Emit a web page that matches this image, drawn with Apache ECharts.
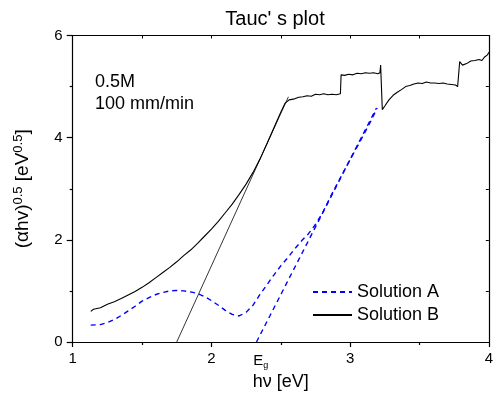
<!DOCTYPE html>
<html>
<head>
<meta charset="utf-8">
<script src="https://cdn.jsdelivr.net/npm/echarts@6/dist/echarts.min.js"></script>
<style>
html,body{margin:0;padding:0;background:#fff;}
#c{width:496px;height:396px;}
</style>
</head>
<body>
<div id="c"></div>
<script>
// ---- Data ----
var xTicks = [1, 2, 3, 4];
var yTicks = [0, 2, 4, 6];

var solBx = [1.13,1.15,1.2,1.25,1.3,1.35,1.4,1.45,1.5,1.55,1.6,1.65,1.7,1.75,1.8,1.85,1.9,1.95,2.0,2.05,2.1,2.15,2.2,2.25,2.3,2.35,2.4,2.45,2.5,2.53,2.56,
  2.6,2.63,2.66,2.69,2.72,2.75,2.78,2.81,2.84,2.87,2.9,2.93,2.935,2.96,2.99,3.02,3.05,3.08,3.11,3.14,3.17,3.2,3.215,3.22,3.232,3.25,3.28,3.31,3.34,3.37,3.4,3.43,3.46,3.49,3.52,3.55,3.58,3.61,3.64,3.67,3.7,3.73,3.76,3.775,3.79,3.81,3.84,3.87,3.9,3.93,3.95,3.97,3.99,4.0];
var solBy = [0.60,0.64,0.67,0.74,0.79,0.85,0.92,0.99,1.07,1.16,1.26,1.36,1.46,1.57,1.69,1.80,1.93,2.07,2.21,2.36,2.53,2.70,2.89,3.09,3.32,3.58,3.88,4.19,4.50,4.67,4.74,
  4.76,4.79,4.80,4.82,4.81,4.85,4.84,4.86,4.84,4.85,4.84,4.86,5.23,5.22,5.24,5.23,5.26,5.25,5.27,5.26,5.27,5.25,5.27,5.42,4.55,4.62,4.74,4.83,4.89,4.94,5.00,5.02,5.05,5.07,5.06,5.09,5.07,5.07,5.06,5.07,5.05,5.04,5.03,5.00,5.49,5.42,5.45,5.50,5.51,5.53,5.51,5.58,5.62,5.67];

var solAx = [1.13,1.2,1.25,1.3,1.35,1.4,1.45,1.5,1.55,1.6,1.65,1.7,1.75,1.8,1.85,1.9,1.95,2.0,2.05,2.1,2.15,2.2,2.25,2.3,2.35,2.4,2.45,2.5,2.55,2.6,2.65,2.7,2.75,2.8,2.85,2.9,2.95,3.0,3.05,3.1,3.15,3.195];
var solAy = [0.33,0.34,0.38,0.44,0.52,0.61,0.70,0.80,0.87,0.93,0.97,1.00,1.01,1.00,0.98,0.95,0.89,0.81,0.72,0.62,0.54,0.51,0.58,0.72,0.93,1.12,1.31,1.49,1.65,1.82,1.98,2.12,2.30,2.52,2.80,3.06,3.32,3.57,3.82,4.07,4.33,4.58];

var tangentBx = [1.75, 2.555];
var tangentBy = [0, 4.80];
var tangentAx = [2.325, 3.19];
var tangentAy = [0, 4.58];

var egValue = 2.33;

function zip(xs, ys){ return xs.map(function(x,i){ return [x, ys[i]]; }); }

var FONT = 'Liberation Sans';
var chart = echarts.init(document.getElementById('c'), null, {renderer:'canvas'});
var option = {
  backgroundColor: '#fff',
  animation: false,
  grid: {left: 72.7, right: 1.3, top: 35.5, bottom: 52.3, containLabel: false},
  legend: {
    orient: 'vertical', left: 307, top: 278,
    itemWidth: 39, itemHeight: 14, itemGap: 5,
    data: ['Solution A', 'Solution B'],
    itemStyle: {opacity: 0},
    textStyle: {fontFamily: FONT, fontSize: 18, color: '#000'}
  },
  xAxis: [{
    type: 'value', min: 1, max: 4, interval: 1, position: 'bottom',
    name: 'hν [eV]', nameLocation: 'middle', nameGap: 31,
    nameTextStyle: {fontFamily: FONT, fontSize: 18, color: '#000'},
    axisLine: {onZero: false, lineStyle: {color: '#000', width: 1.2}},
    axisTick: {inside: false, length: 5, lineStyle: {color: '#000', width: 1.2}},
    minorTick: {show: true, splitNumber: 2, length: 3, lineStyle: {color: '#000', width: 1.2}},
    axisLabel: {fontFamily: FONT, fontSize: 15, color: '#000', margin: 9},
    splitLine: {show: false}
  }, {
    type: 'value', min: 1, max: 4, interval: 0.5, position: 'top',
    axisLine: {onZero: false, lineStyle: {color: '#000', width: 1.2}},
    axisTick: {inside: true, length: 3, lineStyle: {color: '#000', width: 1}},
    axisLabel: {show: false}, splitLine: {show: false}
  }],
  yAxis: [{
    type: 'value', min: 0, max: 6, interval: 2, position: 'left',
    name: '(αhv){sup|0.5} [eV{sup|0.5}]', nameLocation: 'middle', nameGap: 39,
    nameTextStyle: {fontFamily: FONT, fontSize: 19, color: '#000',
      rich: {sup: {fontFamily: FONT, fontSize: 13, color: '#000', verticalAlign: 'top', padding: [0,0,9,0]}}},
    axisLine: {onZero: false, lineStyle: {color: '#000', width: 1.2}},
    axisTick: {inside: false, length: 6, lineStyle: {color: '#000', width: 1.2}},
    minorTick: {show: true, splitNumber: 2, length: 3, lineStyle: {color: '#000', width: 1.2}},
    axisLabel: {fontFamily: FONT, fontSize: 15, color: '#000', margin: 10},
    splitLine: {show: false}
  }, {
    type: 'value', min: 0, max: 6, interval: 1, position: 'right',
    axisLine: {onZero: false, lineStyle: {color: '#000', width: 1.2}},
    axisTick: {inside: true, length: 3, lineStyle: {color: '#000', width: 1}},
    axisLabel: {show: false}, splitLine: {show: false}
  }],
  series: [{
    name: 'Solution A', type: 'line', data: zip(solAx, solAy),
    showSymbol: false, symbol: 'none',
    lineStyle: {color: '#0000ff', width: 1.4, type: [5, 4]},
    itemStyle: {color: '#0000ff'}, z: 3
  }, {
    name: 'Solution B', type: 'line', data: zip(solBx, solBy),
    showSymbol: false, symbol: 'none',
    lineStyle: {color: '#000', width: 1.1},
    itemStyle: {color: '#000'}, z: 3
  }, {
    name: 'tangentA', type: 'line', data: zip(tangentAx, tangentAy),
    showSymbol: false, symbol: 'none',
    lineStyle: {color: '#0000ff', width: 1.4, type: [5, 4]}, z: 2
  }, {
    name: 'tangentB', type: 'line', data: zip(tangentBx, tangentBy),
    showSymbol: false, symbol: 'none',
    lineStyle: {color: '#000', width: 0.8}, z: 2
  }]
};
chart.setOption(option);

var egPos = chart.convertToPixel({xAxisIndex: 0, yAxisIndex: 0}, [egValue, 0]);
chart.setOption({
  graphic: [{
    type: 'text', x: 275, y: 9,
    style: {text: "Tauc' s plot", font: '20px "Liberation Sans"', fill: '#000', align: 'center', verticalAlign: 'top'}
  }, {
    type: 'text', left: 95, top: 73,
    style: {text: '0.5M', font: '18px "Liberation Sans"', fill: '#000'}
  }, {
    type: 'text', left: 95, top: 95,
    style: {text: '100 mm/min', font: '18px "Liberation Sans"', fill: '#000'}
  }, {
    type: 'text', x: egPos[0] - 4, y: egPos[1] + 9,
    style: {
      text: '{e|E}{g|g}',
      rich: {
        e: {fontFamily: FONT, fontSize: 15, fill: '#000'},
        g: {fontFamily: FONT, fontSize: 9, fill: '#000', padding: [10,0,0,0]}
      }
    }
  }]
});
</script>
</body>
</html>
